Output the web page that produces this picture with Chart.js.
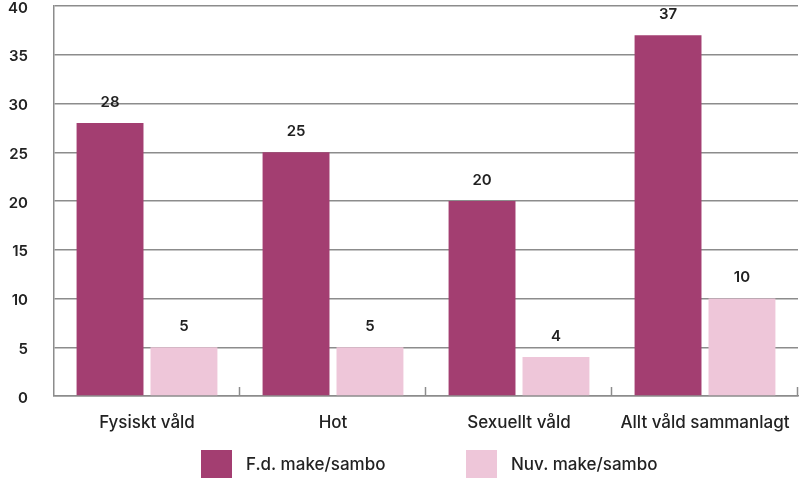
<!DOCTYPE html>
<html>
<head>
<meta charset="utf-8">
<script src="https://cdn.jsdelivr.net/npm/chart.js@4/dist/chart.umd.min.js"></script>
<style>
  html, body { margin: 0; padding: 0; background: #fff; }
  #wrap { position: relative; width: 800px; height: 478px; overflow: hidden; }
  #legend { position: absolute; left: 0; top: 450px; width: 800px; height: 28px; font-family: Inter, "Open Sans", sans-serif; font-size: 17px; font-weight: 500; color: #222; }
  .item { position: absolute; top: 0; height: 28px; line-height: 28px; }
  .box { display: inline-block; width: 31px; height: 28px; vertical-align: top; margin-right: 14px; }
</style>
</head>
<body>
<div id="wrap">
  <canvas id="chart" width="800" height="478"></canvas>
  <div id="legend"></div>
</div>
<script>
// data
var categories = ["Fysiskt våld", "Hot", "Sexuellt våld", "Allt våld sammanlagt"];
var seriesNames = ["F.d. make/sambo", "Nuv. make/sambo"];
var fdValues = [28, 25, 20, 37];
var nuvValues = [5, 5, 4, 10];
var yTicks = [0, 5, 10, 15, 20, 25, 30, 35, 40];

var colors = ["#A33E71", "#EEC6D9"];
var gridColor = "#8c8c8c";
var fontFamily = "Inter, 'Open Sans', sans-serif";

// siffror ovanför staplarna
var valueLabels = {
    id: "valueLabels",
    afterDatasetsDraw: function (chart) {
        var ctx = chart.ctx;
        ctx.save();
        ctx.font = "600 15px " + fontFamily;
        ctx.fillStyle = "#222";
        ctx.textAlign = "center";
        ctx.textBaseline = "middle";
        chart.data.datasets.forEach(function (ds, i) {
            chart.getDatasetMeta(i).data.forEach(function (bar, j) {
                ctx.fillText(ds.data[j], bar.x, bar.y - 21);
            });
        });
        ctx.restore();
    }
};

// små streck mellan kategorierna (uppåt från x-axeln)
var catTicks = {
    id: "catTicks",
    afterDatasetsDraw: function (chart) {
        var ctx = chart.ctx;
        var x = chart.scales.x;
        var area = chart.chartArea;
        var half = (x.getPixelForValue(1) - x.getPixelForValue(0)) / 2;
        ctx.save();
        ctx.strokeStyle = gridColor;
        ctx.lineWidth = 1.5;
        for (var i = 0; i < categories.length; i++) {
            var px = Math.round(x.getPixelForValue(i) + half) - 0.5;
            ctx.beginPath();
            ctx.moveTo(px, area.bottom);
            ctx.lineTo(px, area.bottom - 9);
            ctx.stroke();
        }
        ctx.restore();
    }
};

var chart = new Chart(document.getElementById("chart").getContext("2d"), {
    type: "bar",
    data: {
        labels: categories,
        datasets: [{
            label: seriesNames[0],
            data: fdValues,
            backgroundColor: colors[0],
            barPercentage: 0.905,
            categoryPercentage: 0.795
        }, {
            label: seriesNames[1],
            data: nuvValues,
            backgroundColor: colors[1],
            barPercentage: 0.905,
            categoryPercentage: 0.795
        }]
    },
    options: {
        responsive: false,
        animation: false,
        layout: { padding: { top: 0, right: 2, bottom: 46, left: 0 } },
        plugins: {
            legend: { display: false },
            tooltip: { enabled: false }
        },
        scales: {
            x: {
                afterFit: function (scale) {
                    scale.height = 36;
                    scale.paddingLeft = 0;
                    scale.paddingRight = 0;
                },
                grid: { display: false, drawTicks: false },
                border: { display: true, color: gridColor, width: 1.5 },
                ticks: {
                    color: "#222",
                    padding: 17,
                    font: { family: fontFamily, size: 17, weight: 500 }
                }
            },
            y: {
                min: 0,
                max: 40,
                afterFit: function (scale) {
                    scale.width = 54;
                    scale.paddingTop = 6;
                    scale.paddingBottom = 6;
                },
                afterBuildTicks: function (scale) {
                    scale.ticks = yTicks.map(function (v) { return { value: v }; });
                },
                grid: { color: gridColor, lineWidth: 1.5, drawTicks: false },
                border: { display: true, color: gridColor, width: 1.5 },
                ticks: {
                    color: "#222",
                    padding: 26,
                    labelOffset: 2,
                    font: { family: fontFamily, size: 15, weight: 600 }
                }
            }
        }
    },
    plugins: [valueLabels, catTicks]
});

// legend i html
var legendPos = [201, 466];
var legend = document.getElementById("legend");
seriesNames.forEach(function (name, i) {
    var item = document.createElement("div");
    item.className = "item";
    item.style.left = legendPos[i] + "px";
    item.innerHTML = '<span class="box" style="background:' + colors[i] + '"></span>' + name;
    legend.appendChild(item);
});
</script>
</body>
</html>
